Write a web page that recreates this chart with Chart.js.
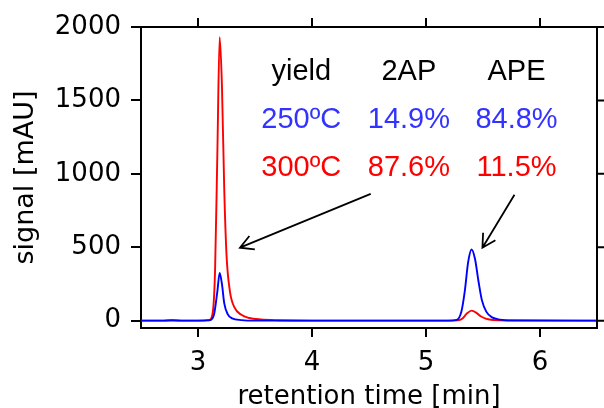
<!DOCTYPE html>
<html>
<head>
<meta charset="utf-8">
<script src="https://cdn.jsdelivr.net/npm/chart.js@4/dist/chart.umd.min.js"></script>
<style>
  html, body { margin: 0; padding: 0; background: #fff; }
  #wrap { width: 604px; height: 408px; }
</style>
</head>
<body>
<div id="wrap"><canvas id="chromChart"></canvas></div>
<script>
// chromatogram traces
const timeBlue   = [2.5, 3.0, 3.10, 3.14, 3.17, 3.19, 3.21, 3.23, 3.26, 3.30, 3.38, 3.5, 5.2, 5.27, 5.31, 5.34, 5.37, 5.40, 5.43, 5.46, 5.49, 5.53, 5.58, 5.65, 5.75, 6.5];
const signalBlue = [0,   0,   2,    40,   200,  325,  250,  120,  45,   15,   4,    0,   0,   5,    60,   200,  400,  485,  420,  270,  140,  60,   22,   7,    2,    0];

const timeRed   = [2.5, 2.7, 2.77, 2.85, 3.0, 3.10, 3.13, 3.15, 3.17, 3.19, 3.21, 3.23, 3.25, 3.28, 3.32, 3.38, 3.45, 3.55, 3.7, 4.0, 5.0, 5.28, 5.32, 5.36, 5.40, 5.44, 5.48, 5.53, 5.6, 5.7, 6.5];
const signalRed = [0,   0,   5,    0,    0,   5,    60,   350,  1150, 1930, 1600, 900,  450,  200,  90,   40,   18,   8,    3,   0,   0,   2,    15,   50,   68,   55,   30,   12,   4,   1,   0];

const xTicks = [3, 4, 5, 6];
const yTicks = [0, 500, 1000, 1500, 2000];

// yield table
const tableHeader = ['yield', '2AP', 'APE'];
const row250 = ['250ºC', '14.9%', '84.8%'];
const row300 = ['300ºC', '87.6%', '11.5%'];

const BLUE = '#0000ff';
const RED = '#ff0000';
const TEXT_BLUE = '#3333ff';

function toPoints(xs, ys) {
    return xs.map((x, i) => ({ x: x, y: ys[i] }));
}

// table + arrows + mirrored ticks on top/right
const extras = {
    id: 'extras',
    afterDraw(chart) {
        const { ctx, chartArea, scales } = chart;
        const xs = scales.x, ys = scales.y;
        ctx.save();

        // frame top/right
        ctx.strokeStyle = '#000';
        ctx.lineWidth = 2;
        ctx.beginPath();
        ctx.moveTo(chartArea.left, chartArea.top);
        ctx.lineTo(chartArea.right, chartArea.top);
        ctx.lineTo(chartArea.right, chartArea.bottom);
        ctx.stroke();
        ctx.beginPath();
        xTicks.forEach((t) => {
            const px = xs.getPixelForValue(t);
            ctx.moveTo(px, chartArea.top);
            ctx.lineTo(px, chartArea.top - 9);
        });
        yTicks.forEach((t) => {
            const py = ys.getPixelForValue(t);
            ctx.moveTo(chartArea.right, py);
            ctx.lineTo(chartArea.right + 9, py);
        });
        ctx.stroke();

        // table text
        const colX = [3.906, 4.85, 5.794];
        const rowY = [1691, 1365, 1038];
        const rows = [
            { cells: tableHeader, color: '#000' },
            { cells: row250, color: TEXT_BLUE },
            { cells: row300, color: RED },
        ];
        ctx.font = '29px "Liberation Sans", Arial, sans-serif';
        ctx.textAlign = 'center';
        ctx.textBaseline = 'middle';
        rows.forEach((r, i) => {
            ctx.fillStyle = r.color;
            r.cells.forEach((c, j) => {
                ctx.fillText(c, xs.getPixelForValue(colX[j]), ys.getPixelForValue(rowY[i]));
            });
        });

        // arrows
        const arrows = [
            [4.515, 864, 3.368, 497],
            [5.776, 857, 5.495, 497],
        ];
        ctx.strokeStyle = '#000';
        ctx.lineWidth = 1.8;
        arrows.forEach((a) => {
            const x0 = xs.getPixelForValue(a[0]), y0 = ys.getPixelForValue(a[1]);
            const x1 = xs.getPixelForValue(a[2]), y1 = ys.getPixelForValue(a[3]);
            const ang = Math.atan2(y1 - y0, x1 - x0);
            const head = 15;
            ctx.beginPath();
            ctx.moveTo(x0, y0);
            ctx.lineTo(x1, y1);
            ctx.moveTo(x1 - head * Math.cos(ang - 0.5), y1 - head * Math.sin(ang - 0.5));
            ctx.lineTo(x1, y1);
            ctx.lineTo(x1 - head * Math.cos(ang + 0.5), y1 - head * Math.sin(ang + 0.5));
            ctx.stroke();
        });
        ctx.restore();
    },
};

const tickFont = { family: '"DejaVu Sans", sans-serif', size: 26 };

new Chart(document.getElementById('chromChart'), {
    type: 'line',
    data: {
        datasets: [
            {
                label: '250ºC',
                data: toPoints(timeBlue, signalBlue),
                borderColor: BLUE,
                borderWidth: 1.9,
                pointRadius: 0,
                cubicInterpolationMode: 'monotone',
            },
            {
                label: '300ºC',
                data: toPoints(timeRed, signalRed),
                borderColor: RED,
                borderWidth: 1.9,
                pointRadius: 0,
                cubicInterpolationMode: 'monotone',
            },
        ],
    },
    options: {
        responsive: true,
        maintainAspectRatio: false,
        animation: false,
        layout: { padding: { top: 27, right: 7, left: 0, bottom: 0 } },
        plugins: { legend: { display: false }, tooltip: { enabled: false } },
        scales: {
            x: {
                type: 'linear',
                min: 2.5,
                max: 6.5,
                afterBuildTicks: (s) => { s.ticks = xTicks.map((v) => ({ value: v })); },
                afterFit: (s) => { s.height = 80; },
                grid: { drawOnChartArea: false, drawTicks: true, tickLength: 9, color: '#000', lineWidth: 2 },
                border: { color: '#000', width: 2 },
                ticks: { font: tickFont, color: '#000', padding: 11, maxRotation: 0, callback: (v) => String(v) },
                title: {
                    display: true,
                    text: 'retention time [min]',
                    font: { family: '"DejaVu Sans", sans-serif', size: 26, lineHeight: 0.8 },
                    color: '#000',
                    padding: 0,
                },
            },
            y: {
                min: -50,
                max: 2000,
                afterBuildTicks: (s) => { s.ticks = yTicks.map((v) => ({ value: v })); },
                afterFit: (s) => { s.width = 141; },
                grid: { drawOnChartArea: false, drawTicks: true, tickLength: 10, color: '#000', lineWidth: 2 },
                border: { color: '#000', width: 2 },
                ticks: { font: tickFont, color: '#000', padding: 10, callback: (v) => String(v) },
                title: {
                    display: true,
                    text: 'signal [mAU]',
                    font: { family: '"DejaVu Sans", sans-serif', size: 27, lineHeight: 1.2 },
                    color: '#000',
                    padding: { top: 10, bottom: 0 },
                },
            },
        },
    },
    plugins: [extras],
});
</script>
</body>
</html>
